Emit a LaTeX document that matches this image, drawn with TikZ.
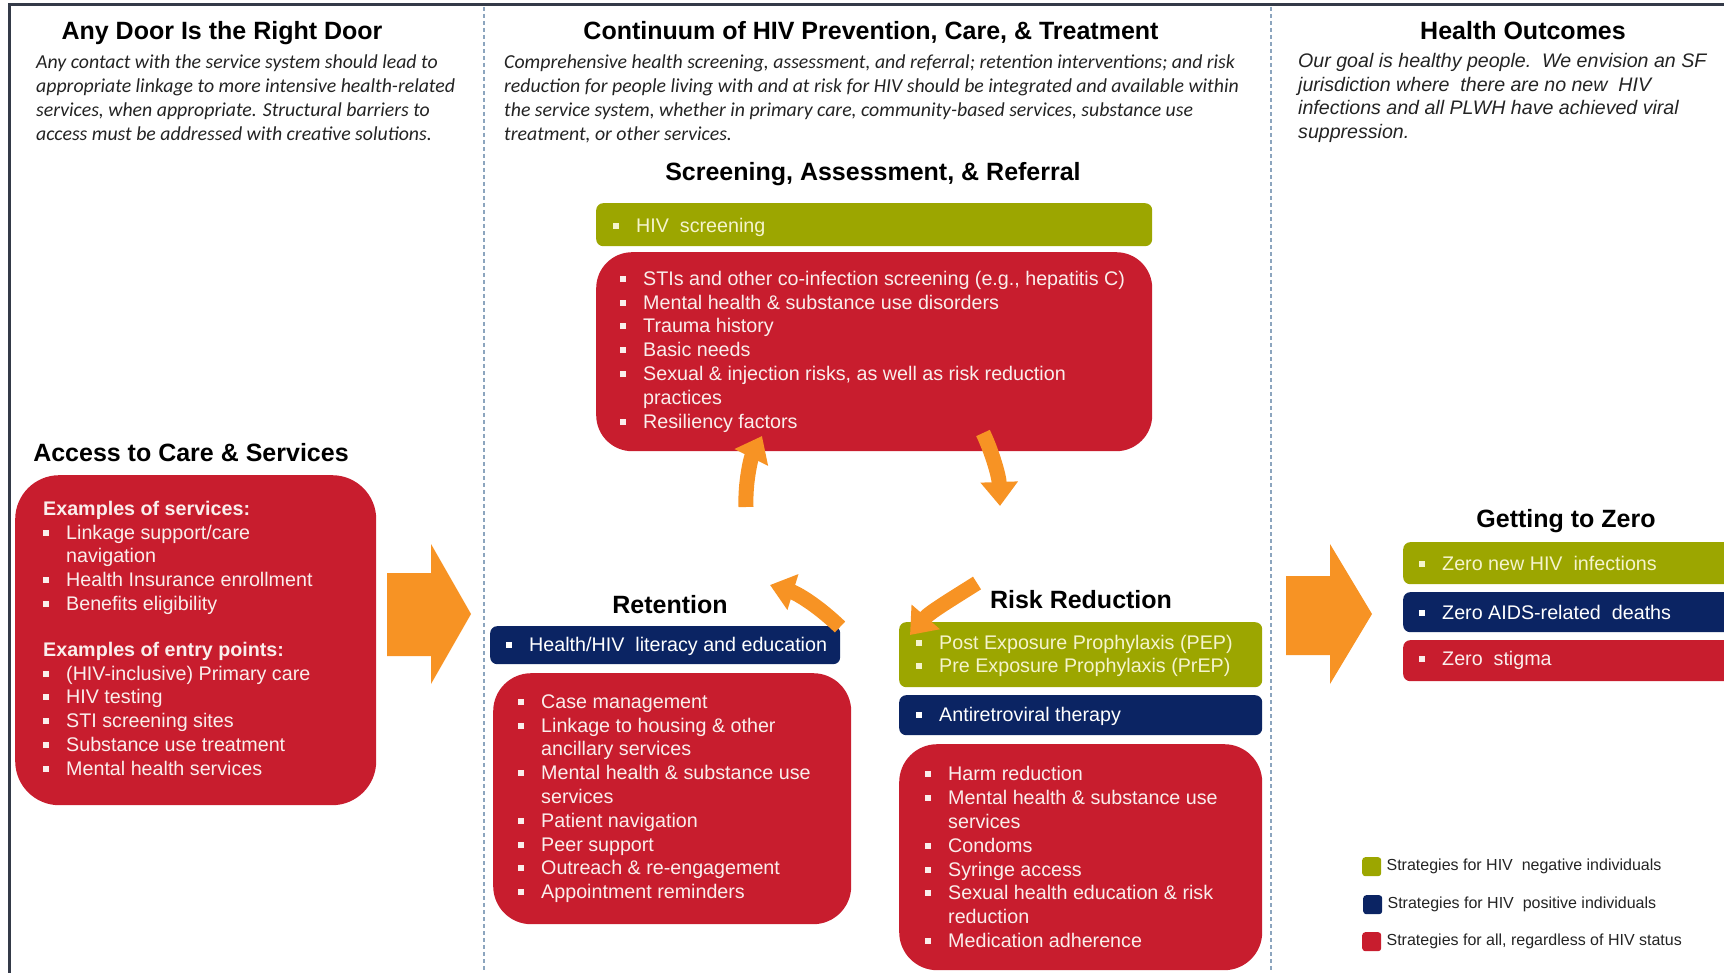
\documentclass[tikz,border=0pt]{standalone}
\usepackage{fontspec}
\setmainfont{Liberation Sans}
\newfontfamily\carlito{Carlito}
\usetikzlibrary{arrows.meta}
\definecolor{hivred}{RGB}{200,29,46}
\definecolor{hivgreen}{RGB}{156,166,0}
\definecolor{hivnavy}{RGB}{11,36,99}
\definecolor{hivorange}{RGB}{247,147,36}
\definecolor{pinkwhite}{RGB}{250,238,236}
\definecolor{paleyellow}{RGB}{245,244,205}
\definecolor{inkgray}{RGB}{35,35,35}
\definecolor{framegray}{RGB}{52,58,72}
\definecolor{dashblue}{RGB}{140,165,190}
\newcommand{\bul}{\makebox[23pt][l]{\rule[3.5pt]{6pt}{6pt}}}
\newcommand{\ind}{\hspace*{23pt}}
\tikzset{
	box/.style={anchor=north west,inner sep=0pt},
	red box/.style={box,fill=hivred,rounded corners=38pt},
	green box/.style={box,fill=hivgreen,rounded corners=7pt},
	navy box/.style={box,fill=hivnavy,rounded corners=7pt},
	list text/.style={anchor=west,align=left,inner sep=0pt,font=\fontsize{19.7}{23.8}\selectfont},
	head text/.style={anchor=base,font=\fontsize{25}{30}\selectfont\bfseries,text=black},
	blurb/.style={anchor=north west,align=left,inner sep=0pt,text=inkgray},
	legend box/.style={box,minimum size=19pt,rounded corners=3pt},
	legend text/.style={anchor=west,inner sep=0pt,text=inkgray,font=\fontsize{16}{19}\selectfont}
}

\begin{document}
\begin{tikzpicture}[x=1pt,y=-1pt,
		flow/.style={draw=hivorange,line width=15pt,-{Triangle[width=36pt,length=24pt]}}]
	\useasboundingbox (0,0) rectangle (1724,973);
	\clip (0,0) rectangle (1724,973);
	% frame and column separators
	\draw[line width=3pt,framegray] (9,5) rectangle (1780,1000);
	\draw[dashblue,line width=1.2pt,dash pattern=on 4pt off 3pt] (484,7) -- (484,973);
	\draw[dashblue,line width=1.2pt,dash pattern=on 4pt off 3pt] (1271,7) -- (1271,973);

	% column heads
	\node[head text] (doorhead) at (222,40) {Any Door Is the Right Door};
	\node[head text] (conthead) at (871,40) {Continuum of HIV Prevention, Care, \& Treatment};
	\node[head text] (outhead) at (1523,40) {Health Outcomes};
	\node[blurb,font=\carlito\itshape\fontsize{19.8}{23.8}\selectfont] (doorblurb) at (36,55)
		{Any contact with the service system should lead to\\
		appropriate linkage to more intensive health-related\\
		services, when appropriate. Structural barriers to\\
		access must be addressed with creative solutions.};
	\node[blurb,font=\carlito\itshape\fontsize{19.8}{23.8}\selectfont] (contblurb) at (504,55)
		{Comprehensive health screening, assessment, and referral; retention interventions; and risk\\
		reduction for people living with and at risk for HIV should be integrated and available within\\
		the service system, whether in primary care, community-based services, substance use\\
		treatment, or other services.};
	\node[blurb,font=\itshape\fontsize{19.6}{23.8}\selectfont] (outblurb) at (1298,53)
		{Our goal is healthy people.\ \ We envision an SF\\
		jurisdiction where\ \ there are no new\ \ HIV\\
		infections and all PLWH have achieved viral\\
		suppression.};

	% access to care
	\node[head text] (acchead) at (191,461) {Access to Care \& Services};
	\node[red box,rounded corners=44pt,minimum width=361pt,minimum height=330pt] (accbox) at (15,475) {};
	\node[list text,text=pinkwhite] (acctxt) at ([xshift=28pt,yshift=2pt]accbox.west)
		{\textbf{Examples of services:}\\
		\bul Linkage support/care\\
		\ind navigation\\
		\bul Health Insurance enrollment\\
		\bul Benefits eligibility\\[22pt]
		\textbf{Examples of entry points:}\\
		\bul (HIV-inclusive) Primary care\\
		\bul HIV testing\\
		\bul STI screening sites\\
		\bul Substance use treatment\\
		\bul Mental health services};
	\fill[hivorange] (387,573) -- (431,573) -- (431,544) -- (471,614) -- (431,684) -- (431,656) -- (387,656) -- cycle;

	% screening, assessment, referral
	\node[head text] (scrhead) at (873,181) {Screening, Assessment, \& Referral};
	\node[green box,minimum width=556pt,minimum height=43pt] (scrneg) at (596,203) {};
	\node[list text,text=paleyellow] (scrnegtxt) at ([xshift=17pt,yshift=-3pt]scrneg.west) {\bul HIV\ \ screening};
	\node[red box,rounded corners=36pt,minimum width=556pt,minimum height=199pt] (scrall) at (596,252) {};
	\node[list text,text=pinkwhite] (scralltxt) at ([xshift=24pt]scrall.west)
		{\bul STIs and other co-infection screening (e.g., hepatitis C)\\
		\bul Mental health \& substance use disorders\\
		\bul Trauma history\\
		\bul Basic needs\\
		\bul Sexual \& injection risks, as well as risk reduction\\
		\ind practices\\
		\bul Resiliency factors};

	% retention
	\node[head text] (rethead) at (670,613) {Retention};
	\node[navy box,minimum width=350pt,minimum height=38pt] (retpos) at (490,626) {};
	\node[list text,text=white] (retpostxt) at ([xshift=16pt,yshift=-1pt]retpos.west) {\bul Health/HIV\ \ literacy and education};
	\node[red box,minimum width=358pt,minimum height=251pt] (retall) at (493,673) {};
	\node[list text,text=pinkwhite] (retalltxt) at ([xshift=25pt]retall.west)
		{\bul Case management\\
		\bul Linkage to housing \& other\\
		\ind ancillary services\\
		\bul Mental health \& substance use\\
		\ind services\\
		\bul Patient navigation\\
		\bul Peer support\\
		\bul Outreach \& re-engagement\\
		\bul Appointment reminders};

	% risk reduction
	\node[head text] (riskhead) at (1081,608) {Risk Reduction};
	\node[green box,minimum width=363pt,minimum height=65pt] (riskneg) at (899,622) {};
	\node[list text,text=paleyellow,font=\fontsize{19.7}{23}\selectfont] (risknegtxt) at ([xshift=17pt,yshift=-1pt]riskneg.west)
		{\bul Post Exposure Prophylaxis (PEP)\\
		\bul Pre Exposure Prophylaxis (PrEP)};
	\node[navy box,minimum width=363pt,minimum height=40pt] (riskpos) at (899,695) {};
	\node[list text,text=white] (riskpostxt) at ([xshift=17pt,yshift=-1pt]riskpos.west) {\bul Antiretroviral therapy};
	\node[red box,minimum width=363pt,minimum height=226pt] (riskall) at (899,744) {};
	\node[list text,text=pinkwhite] (riskalltxt) at ([xshift=26pt]riskall.west)
		{\bul Harm reduction\\
		\bul Mental health \& substance use\\
		\ind services\\
		\bul Condoms\\
		\bul Syringe access\\
		\bul Sexual health education \& risk\\
		\ind reduction\\
		\bul Medication adherence};

	% cycle arrows
	\coordinate (retout) at (746,507);
	\coordinate (scrin) at (762,436);
	\coordinate (scrout) at (983,433);
	\coordinate (riskin) at (1000,506);
	\coordinate (riskout) at (840,627);
	\coordinate (retin) at (770,585);
	\coordinate (cyc) at (977,583);
	\coordinate (cycin) at (910,635);
	\draw[flow] (retout) .. controls (745,482) and (751,458) .. (scrin);
	\draw[flow] (scrout) .. controls (992,452) and (999,476) .. (riskin);
	\draw[flow] (riskout) .. controls (816,604) and (796,593) .. (retin);
	\draw[flow] (cyc) .. controls (955,597) and (930,612) .. (cycin);

	% getting to zero
	\fill[hivorange] (1286,576) -- (1330,576) -- (1330,544) -- (1372,614) -- (1330,684) -- (1330,655) -- (1286,655) -- cycle;
	\node[head text] (zerohead) at (1566,527) {Getting to Zero};
	\node[green box,minimum width=360pt,minimum height=42pt] (zeroneg) at (1403,542) {};
	\node[list text,text=paleyellow] (zeronegtxt) at ([xshift=16pt]zeroneg.west) {\bul Zero new HIV\ \ infections};
	\node[navy box,minimum width=360pt,minimum height=40pt] (zeropos) at (1403,592) {};
	\node[list text,text=white] (zeropostxt) at ([xshift=16pt]zeropos.west) {\bul Zero AIDS-related\ \ deaths};
	\node[red box,rounded corners=7pt,minimum width=360pt,minimum height=41pt] (zeroall) at (1403,640) {};
	\node[list text,text=pinkwhite] (zeroalltxt) at ([xshift=16pt]zeroall.west) {\bul Zero\ \ stigma};

	% legend
	\node[legend box,fill=hivgreen] (keyneg) at (1362,857) {};
	\node[legend text] (keynegtxt) at ([xshift=5pt]keyneg.east) {Strategies for HIV\ \ negative individuals};
	\node[legend box,fill=hivnavy] (keypos) at (1363,895) {};
	\node[legend text] (keypostxt) at ([xshift=5pt]keypos.east) {Strategies for HIV\ \ positive individuals};
	\node[legend box,fill=hivred] (keyall) at (1362,932) {};
	\node[legend text] (keyalltxt) at ([xshift=5pt]keyall.east) {Strategies for all, regardless of HIV status};
\end{tikzpicture}
\end{document}
